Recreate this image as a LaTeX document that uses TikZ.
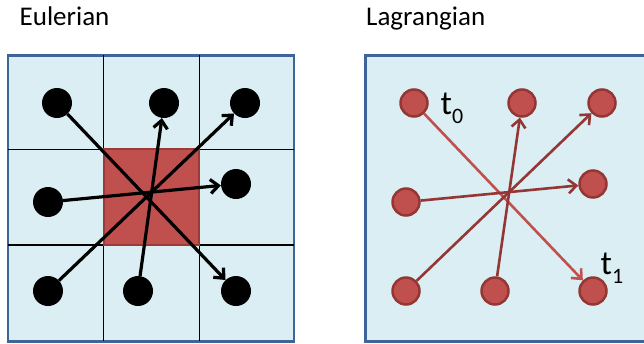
\documentclass[tikz,border=0pt]{standalone}
\usepackage{fontspec}
\setmainfont{Carlito}
\usetikzlibrary{arrows.meta}
\definecolor{cellfill}{HTML}{DBEEF3}
\definecolor{frameblue}{HTML}{3F649A}
\definecolor{redfill}{HTML}{C0504D}
\definecolor{reddark}{HTML}{943634}
\begin{document}
\begin{tikzpicture}[x=1pt,y=-1pt,
  frame/.style={draw=frameblue,line width=2.7pt,fill=cellfill},
  gridline/.style={draw=black,line width=1.2pt},
  blackdot/.style={circle,fill=black,minimum size=30pt,inner sep=0pt},
  reddot/.style={circle,fill=redfill,draw=reddark,line width=2.5pt,minimum size=27pt,inner sep=0pt},
  flow/.style={line width=3.2pt,-{Straight Barb[length=8pt,width=14pt]}},
  redflow/.style={line width=2.6pt,-{Straight Barb[length=8pt,width=14pt]}},
  title/.style={anchor=base west,inner sep=0pt,font=\fontsize{27}{30}\selectfont},
  timelabel/.style={anchor=base west,inner sep=0pt,font=\fontsize{34}{36}\selectfont}]
\clip (0,0) rectangle (644,343);

% headings
\node[title] (eul) at (19.5,25) {Eulerian};
\node[title] (lag) at (366,25) {Lagrangian};

% Eulerian grid with the central control cell
\draw[frame] (8,55.3) rectangle (294,341.3);
\draw[gridline] (103.7,55.3) -- (103.7,341.3);
\draw[gridline] (199.3,55.3) -- (199.3,341.3);
\draw[gridline] (8,149.3) -- (294,149.3);
\draw[gridline] (8,245) -- (294,245);
\filldraw[fill=redfill,draw=reddark!85!redfill,line width=2pt] (103.7,149.3) rectangle (199.3,245);

\node[blackdot] (e1) at (57,103) {};
\node[blackdot] (e2) at (164,103) {};
\node[blackdot] (e3) at (245,103) {};
\node[blackdot] (e4) at (48,202) {};
\node[blackdot] (e5) at (236,184) {};
\node[blackdot] (e6) at (48,291) {};
\node[blackdot] (e7) at (138,291) {};
\node[blackdot] (e8) at (236,291) {};

\draw[flow] (e1) -- (e8);
\draw[flow] (e4) -- (e5);
\draw[flow] (e6) -- (e3);
\draw[flow] (e7) -- (e2);

% Lagrangian particles
\draw[frame] (365.7,55.3) rectangle (652,341.3);

\node[reddot] (l1) at (414,103) {};
\node[reddot] (l2) at (522,103) {};
\node[reddot] (l3) at (602,103) {};
\node[reddot] (l4) at (406,202) {};
\node[reddot] (l5) at (593,184) {};
\node[reddot] (l6) at (406,291) {};
\node[reddot] (l7) at (495,291) {};
\node[reddot] (l8) at (593,291) {};

\draw[redflow,draw=redfill] (l1) -- (l8);
\draw[redflow,draw=reddark] (l4) -- (l5);
\draw[redflow,draw=reddark] (l6) -- (l3);
\draw[redflow,draw=reddark] (l7) -- (l2);

\node[timelabel] (t0) at (440.5,114.3) {t\raisebox{-8.7pt}{\fontsize{22}{22}\selectfont 0}};
\node[timelabel] (t1) at (600.5,274) {t\raisebox{-9pt}{\fontsize{22}{22}\selectfont 1}};
\end{tikzpicture}
\end{document}
